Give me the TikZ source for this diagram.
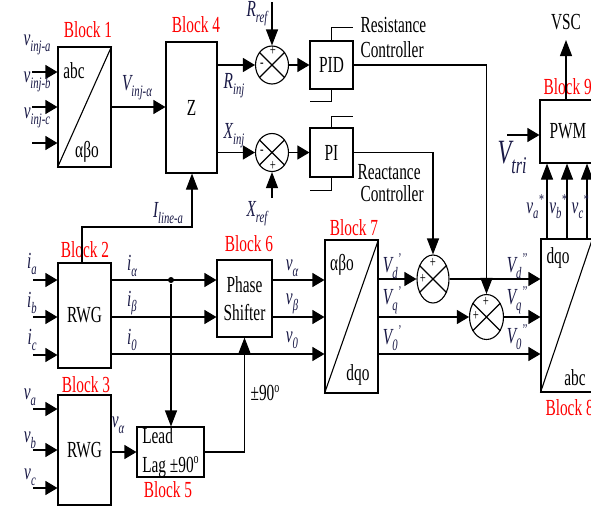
\documentclass[tikz,border=0pt]{standalone}
\usepackage{fontspec}
\setmainfont{Liberation Serif}[FakeStretch=0.667]
\usetikzlibrary{arrows.meta,shapes.geometric}
\definecolor{labc}{RGB}{25,25,70}
\newcommand\mysub[1]{\raisebox{-0.55ex}{\fontsize{16}{16}\selectfont #1}}
\newcommand\mysup[1]{\raisebox{0.8ex}{\fontsize{15}{15}\selectfont #1}}
\begin{document}
\begin{tikzpicture}[x=1pt,y=-1pt,line width=1.1pt,
  every node/.style={inner sep=0pt,font=\fontsize{23}{26}\selectfont},
  blk/.style={draw,line width=1.1pt},
  sumj/.style={draw,ellipse,line width=1.1pt},
  tag/.style={text=red},
  lab/.style={text=labc,font=\fontsize{23}{26}\selectfont\itshape},
  sgn/.style={font=\fontsize{16}{16}\selectfont},
  ha/.style={-{Triangle[length=12pt,width=14pt]}},
  va/.style={-{Triangle[length=16pt,width=12pt]}},
  jdot/.style={circle,fill,inner sep=0pt,minimum size=6pt}]
\fill[white] (0,0) rectangle (591,507);
\useasboundingbox (0,0) rectangle (591,507);

% Block 1
\node[blk,minimum width=53pt,minimum height=120pt] (b1) at (84.5,107) {};
\draw (b1.south west) -- (b1.north east);
\node (b1abc) at (74,71) {abc};
\node (b1ab) at (87,152) {αβo};
\node[tag] (t1) at (88,30) {Block 1};
\coordinate (pa) at (32,72);
\coordinate (pb) at (32,107);
\coordinate (pc) at (32,143);
\draw[ha] (pa) -- (pa -| b1.west);
\draw[ha] (pb) -- (pb -| b1.west);
\draw[ha] (pc) -- (pc -| b1.west);
\node[lab] (lpa) at (37,45) {v\mysub{inj-a}};
\node[lab] (lpb) at (37,82) {v\mysub{inj-b}};
\node[lab] (lpc) at (37,118) {v\mysub{inj-c}};

% Block 4
\node[blk,minimum width=51pt,minimum height=131pt] (b4) at (191.5,107.5) {Z};
\node[tag] (t4) at (196,25) {Block 4};
\draw[ha] (b1.east) -- (b1.east -| b4.west);
\node[lab] (lvinj) at (137,88) {V\mysub{inj-α}};

% summing junctions 1,2
\node[sumj,minimum width=33pt,minimum height=38pt] (s1) at (272,65) {};
\draw (s1.45) -- (s1.225) (s1.135) -- (s1.315);
\node[sgn] (s1p) at (273,51) {+};
\node[sgn] (s1m) at (262,65) {-};
\coordinate (rref) at (272,2);
\draw[va] (rref) -- (s1.north);
\node[lab] (lrref) at (257,14) {R\mysub{ref}};
\draw[ha] (b4.east |- s1) -- (s1.west);
\node[lab] (lrinj) at (234,86) {R\mysub{inj}};

\node[sumj,minimum width=33pt,minimum height=38pt] (s2) at (272,152.5) {};
\draw (s2.45) -- (s2.225) (s2.135) -- (s2.315);
\node[sgn] (s2m) at (262,152) {-};
\node[sgn] (s2p) at (273,166) {+};
\coordinate (xref) at (272,198);
\draw[va] (xref) -- (s2.south);
\node[lab] (lxref) at (257,214) {X\mysub{ref}};
\draw[ha] (b4.east |- s2) -- (s2.west);
\node[lab] (lxinj) at (234,136) {X\mysub{inj}};

% PID / PI
\node[blk,minimum width=43pt,minimum height=48pt] (pid) at (331.5,65) {PID};
\draw[ha] (s1.east) -- (pid.west);
\draw (pid.north) -- ++(0,-13) -- ++(21.5,0);
\draw (pid.south) -- ++(0,12) -- ++(-21.5,0);
\node[blk,minimum width=43pt,minimum height=49pt] (pi) at (331.5,152.5) {PI};
\draw[ha] (s2.east) -- (pi.west);
\draw (pi.north) -- ++(0,-11) -- ++(21.5,0);
\draw (pi.south) -- ++(0,13) -- ++(-21.5,0);
\node[anchor=west] (rc1) at (360,25) {Resistance};
\node[anchor=west] (rc2) at (360,50) {Controller};
\node[anchor=west] (xc1) at (357,172) {Reactance};
\node[anchor=west] (xc2) at (360,194) {Controller};

% Block 2
\node[blk,minimum width=53pt,minimum height=105pt] (b2) at (84.5,315.5) {RWG};
\node[tag] (t2) at (85,250) {Block 2};
\coordinate (qa) at (33,280);
\coordinate (qb) at (33,317);
\coordinate (qc) at (33,355);
\draw[ha] (qa) -- (qa -| b2.west);
\draw[ha] (qb) -- (qb -| b2.west);
\draw[ha] (qc) -- (qc -| b2.west);
\node[lab] (lqa) at (32,264) {i\mysub{a}};
\node[lab] (lqb) at (32,303) {i\mysub{b}};
\node[lab] (lqc) at (32,340) {i\mysub{c}};
\coordinate (il1) at (82,227);
\coordinate (il2) at (192,227);
\draw[va] (b2.north -| il1) -- (il1) -- (il2) -- (il2 |- b4.south);
\node[lab] (lil) at (168,213) {I\mysub{line-a}};

% Block 6
\node[blk,minimum width=55pt,minimum height=77pt,align=center,font=\fontsize{23}{28}\selectfont] (b6) at (244.5,298.5) {Phase\\Shifter};
\node[tag] (t6) at (249,244) {Block 6};
\node[jdot] (jd) at (171,280) {};
\coordinate (yb) at (0,317);
\coordinate (y0) at (0,354);
\draw[ha] (b2.east |- jd) -- (b6.west |- jd);
\draw[ha] (b2.east |- yb) -- (b6.west |- yb);
\node[lab] (lial) at (132,266) {i\mysub{α}};
\node[lab] (libe) at (132,303) {i\mysub{β}};
\node[lab] (li0) at (132,340) {i\mysub{0}};

% Block 7
\node[blk,minimum width=53pt,minimum height=153pt] (b7) at (351.5,316.5) {};
\draw (b7.south west) -- (b7.north east);
\node (b7ab) at (342,265) {αβo};
\node (b7dq) at (358,375) {dqo};
\node[tag] (t7) at (354,228) {Block 7};
\draw[ha] (b6.east |- jd) -- (b7.west |- jd);
\draw[ha] (b6.east |- yb) -- (b7.west |- yb);
\draw[ha] (b2.east |- y0) -- (b7.west |- y0);
\node[lab] (lva) at (292,268) {v\mysub{α}};
\node[lab] (lvb) at (292,304) {v\mysub{β}};
\node[lab] (lv0) at (292,340) {v\mysub{0}};

% Block 3 and Block 5
\node[blk,minimum width=53pt,minimum height=110pt] (b3) at (84.5,450) {RWG};
\node[tag] (t3) at (86,385) {Block 3};
\coordinate (ua) at (33,409);
\coordinate (ub) at (33,450);
\coordinate (uc) at (33,488);
\draw[ha] (ua) -- (ua -| b3.west);
\draw[ha] (ub) -- (ub -| b3.west);
\draw[ha] (uc) -- (uc -| b3.west);
\node[lab] (lua) at (30,397) {v\mysub{a}};
\node[lab] (lub) at (30,440) {v\mysub{b}};
\node[lab] (luc) at (30,477) {v\mysub{c}};
\node[blk,minimum width=67pt,minimum height=50pt,align=left,font=\fontsize{23}{29}\selectfont] (b5) at (170.5,452) {Lead\\Lag ±90\mysup{o}};
\node[tag] (t5) at (168,490) {Block 5};
\draw[ha] (b3.east |- b5) -- (b5.west);
\node[lab] (lva3) at (118,425) {v\mysub{α}};
\draw[va] (jd) -- (jd |- b5.north);
\draw[va] (b5.east) -| (b6.south);
\node (l90) at (265,393) {±90\mysup{o}};

% summing junctions 3,4
\node[sumj,minimum width=32pt,minimum height=48pt] (s3) at (433,279) {};
\draw (s3.45) -- (s3.225) (s3.135) -- (s3.315);
\node[sgn] (s3p) at (433,263) {+};
\node[sgn] (s3l) at (423,279) {+};
\node[sumj,minimum width=34pt,minimum height=45pt] (s4) at (486.5,317) {};
\draw (s4.45) -- (s4.225) (s4.135) -- (s4.315);
\node[sgn] (s4p) at (486,302) {+};
\node[sgn] (s4l) at (476,316) {+};
\draw[va] (pid.east) -| (s4.north);
\draw[va] (pi.east) -| (s3.north);

% Block 8
\node[blk,minimum width=51pt,minimum height=153pt] (b8) at (566.5,315.5) {};
\draw (b8.south west) -- (b8.north east);
\node (b8dq) at (558,258) {dqo};
\node (b8abc) at (575,378) {abc};
\node[tag,anchor=west] (t8) at (545,408) {Block 8};
\draw[ha] (b7.east |- s3) -- (s3.west);
\draw[ha] (s3.east) -- (s3.east -| b8.west);
\draw[ha] (b7.east |- s4) -- (s4.west);
\draw[ha] (s4.east) -- (s4.east -| b8.west);
\draw[ha] (b7.east |- y0) -- (b8.west |- y0);
\node[lab] (lvd1) at (392,266) {V\mysub{d}\mysup{’}};
\node[lab] (lvq1) at (392,300) {V\mysub{q}\mysup{’}};
\node[lab] (lv01) at (392,338) {V\mysub{0}\mysup{’}};
\node[lab] (lvd2) at (517,266) {V\mysub{d}\mysup{’’}};
\node[lab] (lvq2) at (517,300) {V\mysub{q}\mysup{’’}};
\node[lab] (lv02) at (517,337) {V\mysub{0}\mysup{’’}};

% Block 9
\node[blk,minimum width=56pt,minimum height=63pt] (b9) at (568,131.5) {PWM};
\node[tag,anchor=west] (t9) at (543,87) {Block 9};
\node (vsc) at (566,22) {VSC};
\coordinate (vsctip) at (566,40);
\draw[va] (b9.north -| vsc) -- (vsctip);
\coordinate (vt) at (507,135);
\draw[ha] (vt) -- (vt -| b9.west);
\node[lab] (lvtri) at (512,157) {{\fontsize{34}{34}\selectfont V}\raisebox{-10pt}{\fontsize{24}{24}\selectfont tri}};
\coordinate (xa) at (547,0);
\coordinate (xb) at (567,0);
\coordinate (xc) at (587,0);
\draw[va] (b8.north -| xa) -- (b9.south -| xa);
\draw[va] (b8.north -| xb) -- (b9.south -| xb);
\draw[va] (b8.north -| xc) -- (b9.south -| xc);
\node[lab] (lsa) at (535,207) {v\mysub{a}\mysup{*}};
\node[lab] (lsb) at (558,207) {v\mysub{b}\mysup{*}};
\node[lab] (lsc) at (580,207) {v\mysub{c}\mysup{*}};
\end{tikzpicture}
\end{document}
